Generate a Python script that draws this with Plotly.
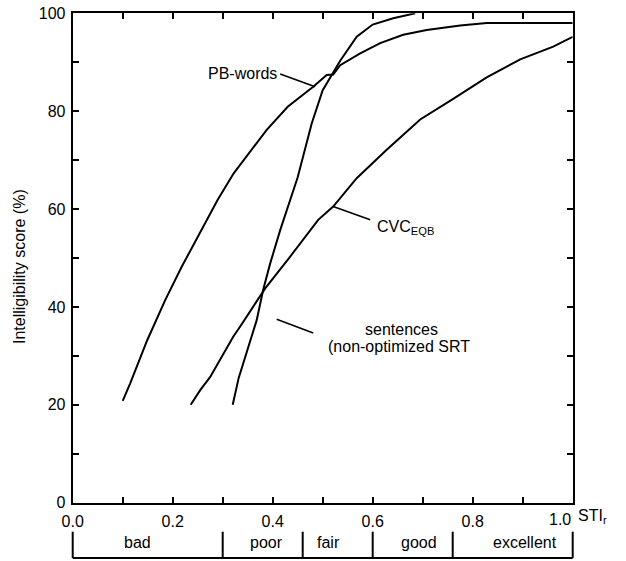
import plotly.graph_objects as go

# ---------------- data ----------------
PB_X = [0.100, 0.115, 0.149, 0.185, 0.218, 0.256, 0.290, 0.322, 0.355, 0.388,
        0.430, 0.481, 0.508, 0.521, 0.535, 0.575, 0.615, 0.661, 0.708, 0.775,
        0.828, 1.000]
PB_Y = [20.8, 24.4, 33.2, 41.4, 48.2, 55.4, 61.9, 67.3, 71.7, 76.2,
        80.9, 85.0, 87.4, 87.5, 89.4, 91.8, 93.9, 95.6, 96.6, 97.5,
        98.0, 98.0]

SENT_X = [0.320, 0.332, 0.368, 0.381, 0.395, 0.415, 0.450, 0.478, 0.500,
          0.535, 0.568, 0.600, 0.641, 0.685]
SENT_Y = [20.0, 25.5, 37.3, 43.5, 48.9, 55.7, 66.5, 77.5, 84.3,
          90.3, 95.2, 97.7, 99.0, 100.0]

CVC_X = [0.236, 0.255, 0.275, 0.301, 0.321, 0.335, 0.385, 0.435, 0.491,
         0.521, 0.568, 0.628, 0.695, 0.761, 0.828, 0.895, 0.961, 1.000]
CVC_Y = [20.0, 23.0, 25.7, 30.5, 33.9, 36.0, 43.8, 50.3, 57.8,
         60.5, 66.3, 72.1, 78.3, 82.5, 86.9, 90.6, 93.2, 95.2]

# leader lines from labels to curves
PB_LEAD_X = [0.415, 0.485]
PB_LEAD_Y = [87.6, 85.0]
CVC_LEAD_X = [0.521, 0.595]
CVC_LEAD_Y = [60.5, 57.8]
SENT_LEAD_X = [0.408, 0.481]
SENT_LEAD_Y = [37.5, 34.7]

X_TICKS = [0.0, 0.2, 0.4, 0.6, 0.8]
X_TICKTEXT = ["0.0", "0.2", "0.4", "0.6", "0.8"]
X_LAST_TICK = 1.0
X_LAST_TEXT = "1.0"
Y_TICKS = [0, 20, 40, 60, 80, 100]
Y_TICKTEXT = ["0", "20", "40", "60", "80", "100"]

BAND_EDGES = [0.0, 0.30, 0.46, 0.60, 0.76, 1.0]
BAND_LABELS = ["bad", "poor", "fair", "good", "excellent"]
BAND_LABEL_X = [0.130, 0.387, 0.511, 0.693, 0.904]

# ---------------- layout geometry (window pixels) ----------------
W, H = 626, 561
ML, MR, MT, MB = 60, 40, 5, 0
PW, PH = W - ML - MR, H - MT - MB
PLOT_L, PLOT_R = 72.7, 572.7
PLOT_T, PLOT_B = 13.3, 502.7
BAND_TOP, BAND_BOT = 531.7, 558.0
BAND_AREA_TOP = 522.0

def xdom(px):
    return (px - ML) / PW

def ydom(py):
    return (H - MB - py) / PH

x_per_px = 1.0 / (PLOT_R - PLOT_L)
x2_range = [(ML - PLOT_L) * x_per_px, (ML + PW - PLOT_L) * x_per_px]
y2_unit = BAND_BOT - BAND_TOP
y2_range = [(BAND_BOT - (H - MB)) / y2_unit, (BAND_BOT - BAND_AREA_TOP) / y2_unit]

FONT = "Liberation Sans, Arial, Helvetica, sans-serif"
LW = 2

fig = go.Figure()

line_style = dict(color="black", width=LW)
fig.add_trace(go.Scatter(x=PB_X, y=PB_Y, mode="lines", line=line_style, name="PB-words"))
fig.add_trace(go.Scatter(x=SENT_X, y=SENT_Y, mode="lines", line=line_style, name="sentences"))
fig.add_trace(go.Scatter(x=CVC_X, y=CVC_Y, mode="lines", line=line_style, name="CVC"))
for lx, ly in [(PB_LEAD_X, PB_LEAD_Y), (CVC_LEAD_X, CVC_LEAD_Y), (SENT_LEAD_X, SENT_LEAD_Y)]:
    fig.add_trace(go.Scatter(x=lx, y=ly, mode="lines", line=dict(color="black", width=1.6),
                             hoverinfo="skip"))

# quality band below the x axis
bx, by = [BAND_EDGES[0], BAND_EDGES[-1]], [0, 0]
for e in BAND_EDGES:
    bx += [None, e, e]
    by += [None, 0, 1]
fig.add_trace(go.Scatter(x=bx, y=by, mode="lines", line=dict(color="black", width=LW),
                         xaxis="x2", yaxis="y2", hoverinfo="skip"))

axis_common = dict(showgrid=False, zeroline=False, showline=True, linecolor="black",
                   linewidth=LW, mirror="ticks", ticks="inside", ticklen=6,
                   tickwidth=LW, tickcolor="black", automargin=False,
                   ticklabeloverflow="allow",
                   tickfont=dict(family=FONT, size=16, color="black"))

fig.update_layout(
    width=W, height=H,
    margin=dict(l=ML, r=MR, t=MT, b=MB, autoexpand=False),
    paper_bgcolor="white", plot_bgcolor="white",
    showlegend=False,
    font=dict(family=FONT, size=16, color="black"),
    xaxis=dict(range=[0, 1], domain=[xdom(PLOT_L), xdom(PLOT_R)], anchor="y",
               tickmode="array", tickvals=X_TICKS, ticktext=X_TICKTEXT, ticklabelstandoff=3,
               minor=dict(tickmode="linear", tick0=0, dtick=0.1, ticks="inside", ticklen=6,
                          tickwidth=LW, tickcolor="black", showgrid=False),
               **axis_common),
    yaxis=dict(range=[0, 100], domain=[ydom(PLOT_B), ydom(PLOT_T)], anchor="x",
               tickmode="array", tickvals=Y_TICKS, ticktext=Y_TICKTEXT, ticklabelstandoff=2,
               minor=dict(tickmode="linear", tick0=0, dtick=10, ticks="inside", ticklen=6,
                          tickwidth=LW, tickcolor="black", showgrid=False),
               **axis_common),
    xaxis2=dict(range=x2_range, domain=[0, 1], anchor="y2", visible=False, automargin=False),
    yaxis2=dict(range=y2_range, domain=[0, ydom(BAND_AREA_TOP)], anchor="x2", visible=False,
                automargin=False),
)

ann = []
ann.append(dict(text="PB-words", x=PB_LEAD_X[0], y=PB_LEAD_Y[0], xref="x", yref="y",
                xanchor="right", yanchor="middle", showarrow=False, xshift=-1))
ann.append(dict(text="CVC<sub>EQB</sub>", x=0.605, y=56.7, xref="x", yref="y",
                xanchor="left", yanchor="middle", showarrow=False, yshift=-2))
ann.append(dict(text="sentences", x=0.658, y=35.3, xref="x", yref="y",
                xanchor="center", yanchor="middle", showarrow=False))
ann.append(dict(text="(non-optimized SRT", x=0.652, y=31.9, xref="x", yref="y",
                xanchor="center", yanchor="middle", showarrow=False))
# last x tick label, nudged left to leave room for the axis name (as in the reference)
ann.append(dict(text=X_LAST_TEXT, x=X_LAST_TICK, y=0, xref="x", yref="y",
                xanchor="right", yanchor="middle", showarrow=False, xshift=0, yshift=-17))
ann.append(dict(text="STI<sub>r</sub>", x=1.0, y=0, xref="x", yref="y",
                xanchor="left", yanchor="middle", showarrow=False, xshift=3, yshift=-14))
ann.append(dict(text="Intelligibility score (%)", textangle=-90, x=0, y=ydom(266.5),
                xref="paper", yref="paper", xanchor="center", yanchor="middle",
                showarrow=False, xshift=19.5 - ML, font=dict(size=16)))
for lab, lx in zip(BAND_LABELS, BAND_LABEL_X):
    ann.append(dict(text=lab, x=lx, y=0.6, xref="x2", yref="y2", xanchor="center",
                    yanchor="middle", showarrow=False))
fig.update_layout(annotations=ann)

# remove the browser's default page margin so the figure sits at the window corner,
# and hide the mode bar so it does not cover the top axis
fig.write_html("out.html",
               config={"displayModeBar": False},
               post_script="document.body.style.margin='0';document.body.style.overflow='hidden';")
